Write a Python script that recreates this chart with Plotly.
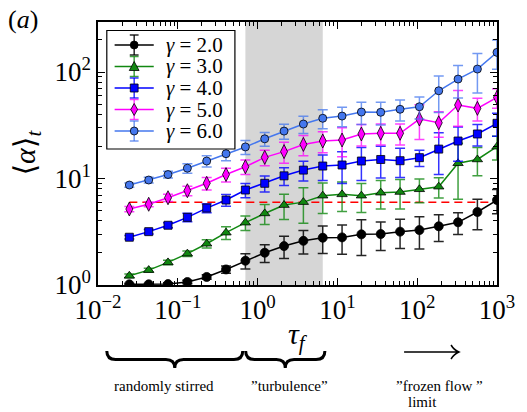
import plotly.graph_objects as go

# ---------------- data ----------------
tau = [0.0247, 0.0432, 0.0754, 0.1318, 0.2302, 0.402, 0.703, 1.228, 2.145, 3.748,
       6.55, 11.44, 19.98, 34.9, 61.0, 106.6, 186.2, 325.0, 568.0, 1000.0]

alpha_g2 = [1.015, 1.015, 1.02, 1.067, 1.19, 1.40, 1.69, 2.01, 2.32, 2.60,
            2.78, 2.80, 2.99, 3.01, 3.17, 3.28, 3.56, 3.88, 4.85, 6.28]
err_g2 = [0.02, 0.02, 0.03, 0.04, 0.06, 0.11, 0.28, 0.38, 0.55, 0.65,
          0.8, 0.86, 1.1, 0.9, 0.97, 1.1, 1.0, 0.9, 1.55, 1.6]

alpha_g3 = [1.22, 1.38, 1.63, 1.97, 2.44, 3.10, 3.85, 4.70, 5.63, 6.0,
            6.9, 7.1, 6.9, 7.36, 7.47, 7.92, 8.38, 13.9, 15.1, 19.9]
err_g3 = [0.05, 0.06, 0.08, 0.12, 0.22, 0.42, 0.6, 1.0, 1.5, 2.2,
          2.2, 2.2, 2.1, 2.2, 2.3, 2.0, 1.8, 7.5, 4.5, 5.0]

alpha_g4 = [2.81, 3.17, 3.64, 4.32, 5.28, 6.28, 7.80, 9.02, 10.6, 12.0,
            13.1, 13.4, 14.6, 15.1, 14.7, 15.7, 18.9, 22.5, 26.2, 33.0]
err_g4 = [0.1, 0.15, 0.2, 0.4, 0.5, 0.8, 1.2, 1.55, 2.0, 2.5,
          3.5, 4.4, 5.0, 5.0, 4.5, 2.7, 8.0, 8.0, 6.0, 8.0]

alpha_g5 = [5.17, 5.73, 6.60, 7.68, 9.02, 10.9, 12.9, 15.8, 17.9, 20.9,
            22.5, 23.0, 26.2, 26.6, 26.6, 36.2, 33.4, 49.0, 45.6, 57.8]
err_g5 = [0.3, 0.3, 0.5, 0.8, 1.2, 1.6, 2.0, 2.6, 4.0, 4.5,
          5.0, 7.0, 6.0, 6.0, 6.0, 13.0, 9.0, 18.0, 11.0, 12.0]

alpha_g6 = [8.69, 9.68, 10.9, 12.5, 14.6, 17.1, 19.8, 23.6, 27.9, 32.5,
            36.8, 38.6, 42.1, 41.9, 44.7, 47.2, 66.7, 85.9, 106.7, 153.0]
err_g6 = [0.4, 0.6, 0.8, 1.3, 1.8, 2.4, 3.0, 3.5, 4.5, 6.0,
          7.5, 8.0, 10.0, 10.0, 10.0, 11.0, 25.0, 29.0, 43.0, 47.0]

gamma_labels = ["2.0", "3.0", "4.0", "5.0", "6.0"]
threshold = 6.0
shade_idx = [6, 10]   # "turbulence" window spans tau[6] .. tau[10]

x_tickvals = [0.01, 0.1, 1, 10, 100, 1000]
x_ticktext = ["10<sup>−2</sup>", "10<sup>−1</sup>", "10<sup>0</sup>",
              "10<sup>1</sup>", "10<sup>2</sup>", "10<sup>3</sup>"]
y_tickvals = [1, 10, 100]
y_ticktext = ["10<sup>0</sup>", "10<sup>1</sup>", "10<sup>2</sup>"]

region_labels = ["randomly stirred", "”turbulence”", "”frozen flow ”", "limit"]

# ---------------- figure ----------------
W, H = 527, 412
L, R, T, B = 98, 21, 22, 127
PW, PH = W - L - R, H - T - B

def px(xp):
    return (xp - L) / PW

def py(yp):
    return (H - B - yp) / PH

SERIF = "Liberation Serif, DejaVu Serif, serif"

fig = go.Figure()

fig.add_shape(type="rect", xref="x", yref="paper",
              x0=tau[shade_idx[0]], x1=tau[shade_idx[1]],
              y0=0, y1=1, fillcolor="#d6d6d6", line=dict(width=0), layer="below")

fig.add_trace(go.Scatter(x=[tau[0], tau[-1]], y=[threshold, threshold], mode="lines",
                         line=dict(color="red", width=1.5, dash="8px,5px"),
                         showlegend=False, hoverinfo="skip"))

series = [
    (alpha_g2, err_g2, "black", "circle", "rgba(0,0,0,0.85)", 9),
    (alpha_g3, err_g3, "#118811", "triangle-up", "rgba(17,136,17,0.8)", 9),
    (alpha_g4, err_g4, "#0000ff", "square", "rgba(0,0,255,0.8)", 8),
    (alpha_g5, err_g5, "#ff00ff", "diamond-tall", "rgba(255,0,255,0.75)", 10),
    (alpha_g6, err_g6, "#4477ee", "circle", "rgba(68,119,238,0.75)", 8),
]

for (vals, errs, col, sym, ecol, msize), lab in zip(series, gamma_labels):
    fig.add_trace(go.Scatter(
        x=tau, y=vals, mode="lines+markers",
        name="γ = " + lab, showlegend=False,
        line=dict(color=col, width=1.5),
        marker=dict(symbol=sym, size=msize, color=col, line=dict(color="black", width=0.8)),
        error_y=dict(type="data", array=errs, visible=True, color=ecol, thickness=1.5, width=5),
    ))

x_minor = [m * 10 ** e for e in range(-2, 3) for m in range(2, 10)]
y_minor = [m * 10 ** e for e in range(0, 3) for m in range(2, 10) if m * 10 ** e < 300]

fig.update_xaxes(type="log", range=[-2, 3], tickvals=x_tickvals, ticktext=x_ticktext,
                 ticks="inside", ticklen=7, tickwidth=1, tickcolor="black",
                 showline=True, linecolor="black", linewidth=1.5, mirror="allticks",
                 showgrid=False, zeroline=False,
                 tickfont=dict(family=SERIF, size=27, color="black"),
                 minor=dict(tickvals=x_minor, ticks="inside", ticklen=4, tickcolor="black",
                            showgrid=False))
fig.update_yaxes(type="log", range=[0, 2.47], tickvals=y_tickvals, ticktext=y_ticktext,
                 ticks="inside", ticklen=7, tickwidth=1, tickcolor="black",
                 showline=True, linecolor="black", linewidth=1.5, mirror="allticks",
                 showgrid=False, zeroline=False,
                 tickfont=dict(family=SERIF, size=27, color="black"),
                 minor=dict(tickvals=y_minor, ticks="inside", ticklen=4, tickcolor="black",
                            showgrid=False))

# ---------- legend (drawn as a framed key) ----------
fig.add_shape(type="rect", xref="paper", yref="paper",
              x0=px(107), x1=px(238), y0=py(149), y1=py(30.5),
              fillcolor="white", line=dict(color="black", width=1.2))

leg_y = [45, 66.5, 88, 109.5, 131]
mx = 135
for (vals, errs, col, sym, ecol, msize), lab, yc in zip(series, gamma_labels, leg_y):
    fig.add_shape(type="line", xref="paper", yref="paper",
                  x0=px(115), x1=px(155), y0=py(yc), y1=py(yc),
                  line=dict(color=col, width=1.5))
    # error bar glyph
    fig.add_shape(type="line", xref="paper", yref="paper",
                  x0=px(mx), x1=px(mx), y0=py(yc - 10), y1=py(yc + 10),
                  line=dict(color=ecol, width=1.5))
    for dy in (-10, 10):
        fig.add_shape(type="line", xref="paper", yref="paper",
                      x0=px(mx - 4.5), x1=px(mx + 4.5), y0=py(yc + dy), y1=py(yc + dy),
                      line=dict(color=ecol, width=1.5))
    mk = dict(xref="paper", yref="paper", fillcolor=col, line=dict(color="black", width=0.8))
    if sym == "circle":
        fig.add_shape(type="circle", x0=px(mx - 4), x1=px(mx + 4),
                      y0=py(yc + 4), y1=py(yc - 4), **mk)
    elif sym == "square":
        fig.add_shape(type="rect", x0=px(mx - 4), x1=px(mx + 4),
                      y0=py(yc + 4), y1=py(yc - 4), **mk)
    elif sym == "triangle-up":
        fig.add_shape(type="path", path=(f"M {px(mx)},{py(yc - 5)} L {px(mx - 5)},{py(yc + 4)} "
                                         f"L {px(mx + 5)},{py(yc + 4)} Z"), **mk)
    else:
        fig.add_shape(type="path", path=(f"M {px(mx)},{py(yc - 6)} L {px(mx + 3.5)},{py(yc)} "
                                         f"L {px(mx)},{py(yc + 6)} L {px(mx - 3.5)},{py(yc)} Z"), **mk)
    fig.add_annotation(text="<i>γ</i> = " + lab, x=px(165), y=py(yc),
                       xref="paper", yref="paper", showarrow=False,
                       xanchor="left", yanchor="middle",
                       font=dict(family=SERIF, size=21, color="black"))

# ---------- braces and arrow under the axis ----------
def brace(x0, x1, ytop, ytip):
    xc = (x0 + x1) / 2
    ym = (ytop + ytip) / 2
    r = 9
    pts = [
        f"M {px(x0)},{py(ytop)}",
        f"Q {px(x0)},{py(ym)} {px(x0 + r)},{py(ym)}",
        f"L {px(xc - r)},{py(ym)}",
        f"Q {px(xc)},{py(ym)} {px(xc)},{py(ytip)}",
        f"Q {px(xc)},{py(ym)} {px(xc + r)},{py(ym)}",
        f"L {px(x1 - r)},{py(ym)}",
        f"Q {px(x1)},{py(ym)} {px(x1)},{py(ytop)}",
    ]
    return " ".join(pts)

for (a, b) in [(107, 246), (249, 330)]:
    fig.add_shape(type="path", xref="paper", yref="paper", path=brace(a, b, 351, 368),
                  line=dict(color="black", width=3))

arrow = (f"M {px(411)},{py(352)} L {px(466)},{py(352)} "
         f"M {px(459)},{py(345)} Q {px(462)},{py(350)} {px(467)},{py(352)} "
         f"Q {px(462)},{py(354)} {px(459)},{py(359)}")
fig.add_shape(type="path", xref="paper", yref="paper", path=arrow,
              line=dict(color="black", width=1.5))

ann = [
    dict(text=region_labels[0], x=px(165), y=py(386)),
    dict(text=region_labels[1], x=px(294), y=py(386)),
    dict(text=region_labels[2], x=px(447), y=py(386)),
    dict(text=region_labels[3], x=px(430), y=py(402)),
]
for a in ann:
    fig.add_annotation(text=a["text"], x=a["x"], y=a["y"], xref="paper", yref="paper",
                       showarrow=False, xanchor="center", yanchor="middle",
                       font=dict(family=SERIF, size=15, color="black"))

fig.add_annotation(text="<i>τ</i><sub><i>f</i></sub>", x=px(302), y=py(336),
                   xref="paper", yref="paper", showarrow=False,
                   xanchor="center", yanchor="middle",
                   font=dict(family=SERIF, size=30, color="black"))
fig.add_annotation(text="⟨<i>α</i>⟩<sub><i>t</i></sub>", x=px(25), y=py(153),
                   xref="paper", yref="paper", showarrow=False, textangle=-90,
                   xanchor="center", yanchor="middle",
                   font=dict(family=SERIF, size=30, color="black"))
fig.add_annotation(text="(<i>a</i>)", x=px(4), y=py(20), xref="paper", yref="paper",
                   showarrow=False, xanchor="left", yanchor="middle",
                   font=dict(family=SERIF, size=26, color="black"))

fig.update_layout(
    width=W, height=H,
    margin=dict(l=L, r=R, t=T, b=B),
    paper_bgcolor="white", plot_bgcolor="white",
    font=dict(family=SERIF, color="black"),
    showlegend=False,
)

fig.write_html("out.html", config={"displayModeBar": False},
               post_script="document.body.style.margin='0';document.body.style.padding='0';")
